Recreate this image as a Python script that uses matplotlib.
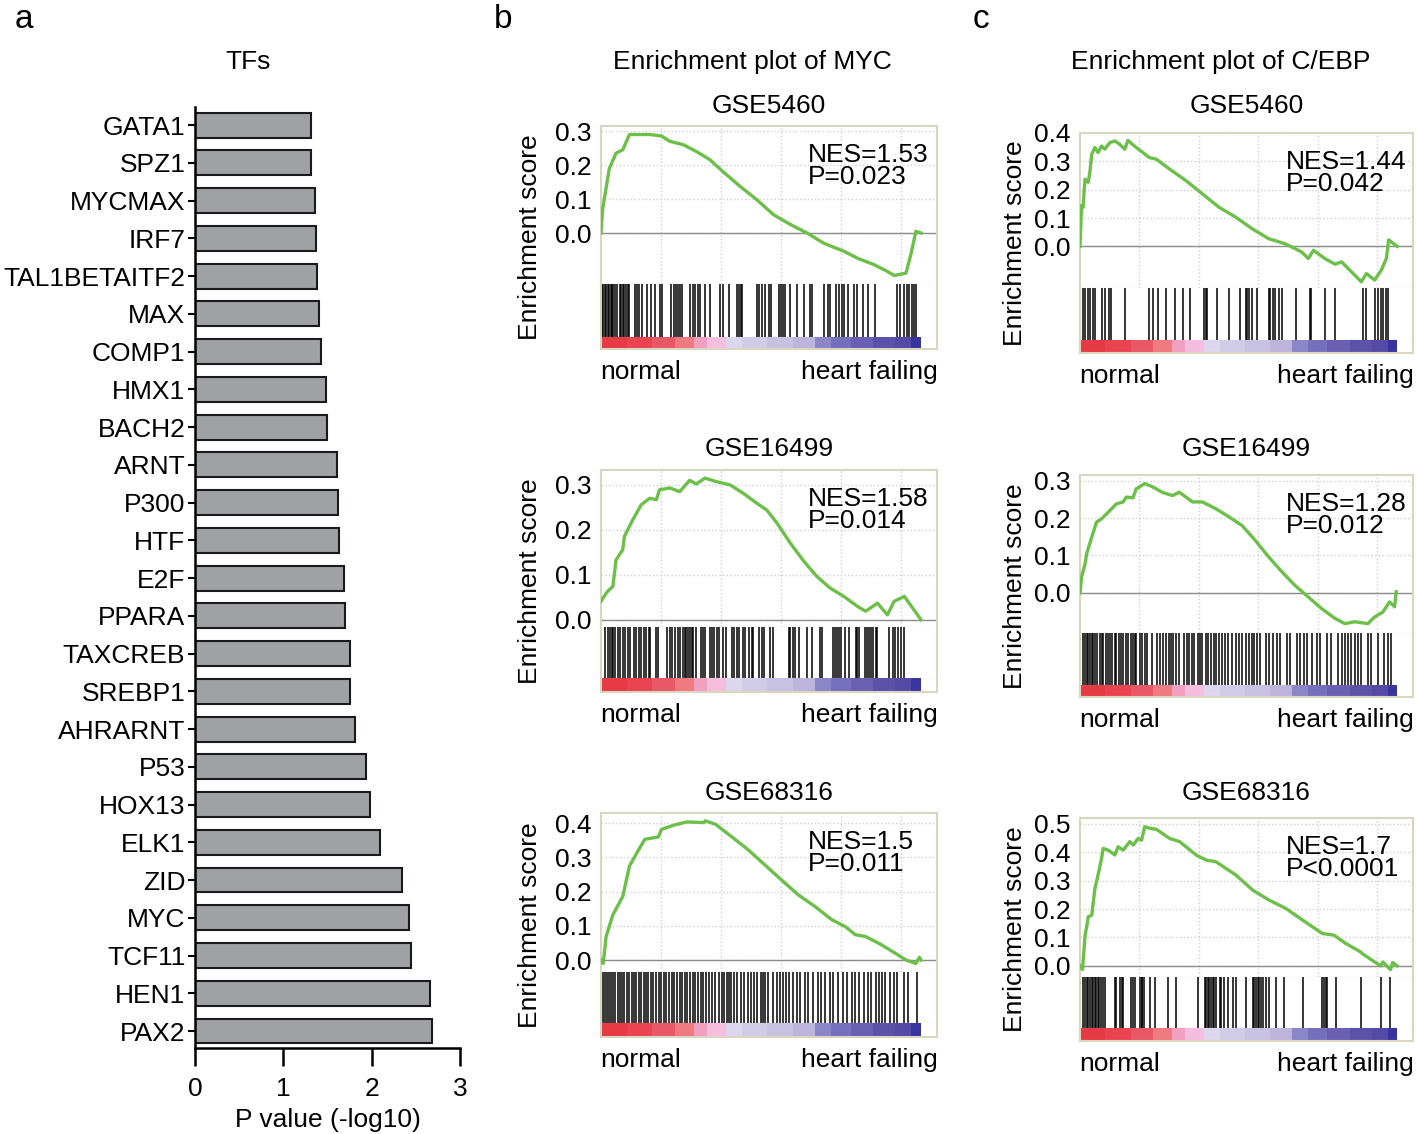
#%%
import numpy as np
import matplotlib.pyplot as plt

plt.rcParams['font.family'] = ['Liberation Sans', 'DejaVu Sans']

# %%
# Panel a: TF enrichment, P value (-log10)
tfs = ['GATA1', 'SPZ1', 'MYCMAX', 'IRF7', 'TAL1BETAITF2', 'MAX', 'COMP1', 'HMX1',
       'BACH2', 'ARNT', 'P300', 'HTF', 'E2F', 'PPARA', 'TAXCREB', 'SREBP1',
       'AHRARNT', 'P53', 'HOX13', 'ELK1', 'ZID', 'MYC', 'TCF11', 'HEN1', 'PAX2']
pvals = [1.31, 1.31, 1.36, 1.37, 1.38, 1.40, 1.43, 1.48, 1.49, 1.61, 1.62, 1.63,
         1.69, 1.70, 1.75, 1.76, 1.81, 1.94, 1.98, 2.09, 2.34, 2.42, 2.44, 2.66, 2.68]
xticks_a = [0, 1, 2, 3]

# %%
# Enrichment curves (x = % of ranked list, y = enrichment score)
es_x_b1 = [0, 0.5, 2.6, 4.7, 6.8, 8.9, 12, 15.2, 18.8, 21.5, 25.7, 29.8, 34, 38.2, 43.5, 48.7,
           53.9, 59.2, 64.4, 69.6, 76, 80.1, 85.3, 89.5, 91.6, 95.3, 96.9, 98.4, 100]
es_y_b1 = [0, 0.07, 0.19, 0.235, 0.245, 0.29, 0.29, 0.29, 0.286, 0.27, 0.26, 0.24, 0.216, 0.18,
           0.137, 0.098, 0.054, 0.025, 0, -0.03, -0.054, -0.074, -0.093, -0.113, -0.125, -0.118,
           -0.06, 0.005, 0]

es_x_b2 = [0, 1.6, 2.6, 3.7, 4.7, 6.8, 7.3, 9.9, 12.6, 15.2, 17.3, 18.3, 21.5, 24.6, 27.7, 29.8,
           32.5, 36.1, 40.3, 44.5, 48.7, 51.8, 55, 59.2, 63.4, 67.5, 71.7, 75.9, 80.1, 82.7, 86.4,
           89.5, 91.6, 94.8, 100]
es_y_b2 = [0.041, 0.059, 0.067, 0.074, 0.133, 0.156, 0.185, 0.222, 0.256, 0.27, 0.267, 0.289,
           0.293, 0.285, 0.31, 0.302, 0.315, 0.307, 0.3, 0.281, 0.259, 0.244, 0.215, 0.17, 0.13,
           0.096, 0.07, 0.052, 0.03, 0.019, 0.037, 0.011, 0.041, 0.052, 0]

es_x_b3 = [0, 0.7, 1.6, 3.7, 6.8, 8.9, 12.1, 13.7, 17.9, 18.9, 22.6, 26.8, 32.1, 32.6, 35.8, 40.5,
           45.8, 51.1, 56.3, 61.6, 66.8, 72.1, 76.3, 79.5, 82.6, 86.8, 91.1, 95.3, 98.4, 99.5, 100]
es_y_b3 = [0, -0.01, 0.069, 0.132, 0.186, 0.275, 0.328, 0.353, 0.36, 0.382, 0.394, 0.404, 0.402,
           0.407, 0.397, 0.363, 0.324, 0.279, 0.235, 0.191, 0.157, 0.118, 0.098, 0.074, 0.069,
           0.049, 0.025, 0, -0.01, 0.008, 0]

es_x_c1 = [0, 0.5, 1.0, 1.3, 1.6, 2.6, 3.1, 3.7, 4.7, 5.7, 6.8, 7.8, 9.4, 11, 12.5, 14.1, 15.1,
           17.7, 21.9, 24, 28.2, 33.4, 38.6, 43.8, 49.1, 54.3, 59.5, 64.7, 67.8, 69.9, 72, 73.6,
           77.2, 80.4, 82.5, 88.7, 90.3, 92.9, 95, 96.6, 97.3, 100]
es_y_c1 = [0, 0.144, 0.138, 0.196, 0.237, 0.226, 0.26, 0.325, 0.349, 0.331, 0.354, 0.343, 0.366,
           0.372, 0.36, 0.343, 0.374, 0.349, 0.313, 0.308, 0.273, 0.232, 0.185, 0.138, 0.103,
           0.062, 0.027, 0.009, -0.008, -0.02, -0.043, -0.014, -0.043, -0.063, -0.055, -0.125,
           -0.096, -0.119, -0.084, -0.043, 0.023, 0]

es_x_c2 = [0, 0.5, 1.6, 2.1, 3.7, 5.2, 6.8, 9.4, 11.5, 13.6, 14.6, 16.7, 17.7, 20.4, 23, 26.1,
           29.2, 31.3, 35.5, 38.6, 42.8, 47, 51.1, 55.3, 59.5, 63.7, 67.8, 72, 76.2, 80.4, 83.5,
           86.6, 90.8, 92.9, 95.5, 97.6, 99.2, 99.7]
es_y_c2 = [0, 0.043, 0.078, 0.105, 0.149, 0.189, 0.198, 0.22, 0.238, 0.243, 0.256, 0.254, 0.278,
           0.292, 0.283, 0.268, 0.26, 0.269, 0.243, 0.243, 0.225, 0.203, 0.18, 0.14, 0.096, 0.056,
           0.02, -0.011, -0.042, -0.068, -0.082, -0.077, -0.082, -0.064, -0.051, -0.024, -0.037,
           0.003]

es_x_c3 = [0, 0.8, 1.6, 2.1, 2.6, 3.7, 4.7, 5.8, 6.8, 7.3, 8.9, 11, 12, 13.6, 15.7, 16.8, 18.3,
           19.4, 20.4, 22, 24.1, 28.3, 31.4, 36.6, 39.8, 42.9, 49.2, 54.5, 59.7, 64.9, 70.2, 76.4,
           80.1, 83.8, 88.5, 89, 94.8, 95.5, 97.9, 98.6, 100]
es_y_c3 = [0, -0.013, 0.108, 0.137, 0.173, 0.178, 0.272, 0.325, 0.378, 0.413, 0.407, 0.39, 0.419,
           0.407, 0.437, 0.425, 0.448, 0.442, 0.489, 0.484, 0.48, 0.448, 0.437, 0.39, 0.372, 0.366,
           0.319, 0.266, 0.231, 0.202, 0.161, 0.114, 0.108, 0.079, 0.049, 0.043, 0, 0.014, -0.013,
           0.012, 0]

# %%
# Hit positions (% of ranked list)
hits_b1 = [0.3, 0.7, 1.2, 1.6, 2.1, 2.6, 3.0, 3.5, 3.9, 4.5, 5.1, 5.8, 6.3, 6.8, 7.3, 7.9, 8.4,
           8.9, 10.5, 11.2, 12.0, 12.9, 14.3, 15.7, 16.8, 18.5, 19.2, 22.0, 22.7, 23.4, 24.0, 24.6,
           25.2, 27.7, 28.6, 29.4, 30.4, 30.9, 32.5, 34.2, 37.2, 38.2, 40.1, 42.6, 43.2, 43.7, 44.1,
           48.7, 49.5, 50.3, 51.3, 52.4, 53.1, 55.5, 56.2, 56.9, 57.6, 59.2, 61.3, 63.4, 65.4, 66.0,
           69.6, 70.9, 71.7, 73.3, 74.3, 75.4, 75.9, 77.2, 79.1, 80.1, 82.0, 83.5, 85.5, 92.5, 93.5,
           94.6, 95.6, 96.3, 97.1, 97.7, 98.4]
hits_b2 = [1.4, 2.1, 2.8, 3.5, 3.9, 4.5, 5.2, 6.0, 6.8, 7.6, 8.4, 9.1, 10.2, 11.0, 11.8, 12.6, 13.3,
           14.1, 15.0, 15.4, 17.3, 17.8, 20.6, 21.5, 22.3, 23.0, 24.1, 24.8, 25.7, 26.2, 26.7, 27.2,
           27.7, 28.3, 28.8, 29.8, 31.4, 31.9, 32.5, 34.0, 34.6, 35.3, 36.1, 37.0, 38.2, 39.1, 40.8,
           41.6, 42.4, 43.2, 44.3, 45.0, 46.4, 47.1, 47.6, 49.5, 50.3, 51.0, 52.9, 53.7, 58.6, 59.2,
           60.0, 60.7, 61.8, 64.4, 66.0, 68.4, 69.1, 72.6, 73.0, 73.6, 74.3, 75.1, 76.4, 77.5, 79.6,
           80.1, 80.6, 82.4, 83.2, 83.8, 84.3, 85.1, 85.9, 86.4, 90.1, 91.1, 91.8, 92.7, 93.7, 94.8]
hits_b3 = [0.5, 1.2, 1.8, 2.5, 3.1, 3.8, 4.4, 5.2, 5.9, 6.5, 7.3, 8.0, 8.8, 9.6, 10.3, 11.0, 11.8,
           12.5, 13.3, 14.0, 14.8, 15.5, 16.4, 17.2, 18.0, 18.9, 19.6, 20.4, 21.3, 22.1, 22.9, 23.7,
           24.6, 25.3, 26.2, 27.0, 27.8, 28.7, 29.5, 30.4, 31.3, 32.0, 32.8, 33.6, 34.6, 35.5, 36.8,
           37.9, 38.4, 39.3, 40.0, 40.5, 41.6, 42.6, 43.9, 44.7, 45.8, 46.8, 47.9, 48.9, 50.0, 50.5,
           51.3, 52.1, 53.7, 55.1, 55.8, 56.8, 57.9, 58.9, 60.0, 61.1, 62.1, 63.7, 64.7, 66.3, 67.9,
           68.9, 70.0, 71.6, 72.6, 74.2, 75.5, 76.8, 78.4, 79.5, 80.5, 82.1, 83.5, 84.5, 85.8, 86.8,
           87.9, 88.9, 90.2, 91.6, 92.6, 94.7, 95.8, 98.9]
hits_c1 = [0.8, 1.6, 2.6, 3.1, 4.0, 4.7, 6.8, 7.8, 9.2, 9.9, 14.1, 21.9, 23.0, 24.5, 27.1, 30.1,
           32.4, 34.7, 39.1, 39.7, 40.2, 43.3, 47.0, 50.6, 52.2, 52.7, 53.2, 54.3, 55.8, 59.5, 60.0,
           60.8, 61.6, 62.6, 63.7, 68.1, 72.5, 72.9, 77.2, 80.4, 89.2, 90.3, 92.9, 93.9, 95.0, 95.5,
           96.6, 97.1]
hits_c2 = [1.0, 1.6, 2.1, 2.6, 3.1, 3.8, 4.2, 4.7, 5.4, 6.3, 6.9, 7.3, 8.1, 8.9, 9.4, 10.2, 11.0,
           11.5, 12.3, 13.0, 13.6, 14.4, 15.1, 16.2, 16.7, 17.2, 17.7, 18.8, 19.6, 20.4, 21.1, 22.8,
           24.2, 25.1, 26.3, 27.1, 28.0, 28.7, 29.4, 30.3, 31.3, 32.9, 33.6, 34.4, 35.3, 36.0, 37.1,
           37.8, 38.6, 39.7, 40.5, 41.2, 42.3, 43.0, 43.8, 44.9, 45.7, 46.8, 48.0, 49.1, 50.1, 51.1,
           52.2, 53.2, 54.1, 54.9, 55.8, 56.9, 58.5, 59.5, 60.8, 62.1, 63.2, 65.2, 66.3, 68.4, 69.4,
           70.5, 71.5, 73.1, 74.6, 75.7, 77.8, 79.3, 81.4, 82.5, 83.5, 84.6, 85.6, 86.6, 87.7, 88.7,
           90.8, 91.9, 93.9, 96.0, 97.1, 98.1]
hits_c3 = [1.0, 1.6, 2.1, 2.6, 3.1, 3.7, 4.2, 4.7, 5.2, 5.8, 6.1, 6.5, 7.3, 7.9, 11.0, 11.5, 12.6,
           13.1, 13.6, 16.2, 16.8, 17.3, 18.8, 19.4, 19.7, 20.1, 22.0, 23.6, 27.7, 30.4, 37.2, 39.3,
           39.8, 40.3, 40.8, 41.4, 41.9, 42.4, 42.9, 44.0, 44.5, 45.5, 46.6, 48.2, 49.2, 52.4, 54.5,
           55.0, 55.5, 56.0, 56.5, 57.1, 57.6, 58.6, 59.7, 61.8, 64.4, 70.2, 76.4, 77.0, 77.5, 78.0,
           80.6, 88.5, 94.8, 97.9]

# ranked list colour blocks
rank_edges = [0, 8, 16, 23, 29, 33, 39, 44, 52, 60, 67, 72, 78, 85, 92, 97, 100]
rank_colors = ['#e83a45', '#ea4452', '#e95866', '#ef7a80', '#f2a0c0', '#f5bedd', '#dcd6ee',
               '#d0cce8', '#c8c2e2', '#bdb4dc', '#8a86c8', '#7570bc', '#6a5fb2', '#5d52aa',
               '#554ba6', '#3a34a0']

nes_b = ['NES=1.53\nP=0.023', 'NES=1.58\nP=0.014', 'NES=1.5\nP=0.011']
nes_c = ['NES=1.44\nP=0.042', 'NES=1.28\nP=0.012', 'NES=1.7\nP<0.0001']
gse_names = ['GSE5460', 'GSE16499', 'GSE68316']

# %%
W, H = 1418, 1134
fig = plt.figure(figsize=(W / 100, H / 100), dpi=100)

FS = 19

def box(l, t, r, b):
    return [l / W, 1 - b / H, (r - l) / W, (b - t) / H]

def ftext(x, y, s, **kw):
    kw.setdefault('fontsize', FS)
    kw.setdefault('va', 'center')
    return fig.text(x / W, 1 - y / H, s, **kw)

green = '#6cc04a'
frame_col = '#d9d5c0'
sep_col = '#b5b5b5'

# panel a
ax = fig.add_axes(box(195, 107, 460, 1048))
ypos = np.arange(len(tfs))
ax.barh(ypos, pvals, height=0.66, color='#a0a1a5', edgecolor='#1a1a1a', linewidth=1.5)
ax.set_xlim(0, 3)
ax.set_ylim(24.45, -0.48)
ax.set_yticks(ypos)
ax.set_yticklabels(tfs)
ax.set_xticks(xticks_a)
for s in ['top', 'right']:
    ax.spines[s].set_visible(False)
for s in ['left', 'bottom']:
    ax.spines[s].set_linewidth(1.8)
ax.tick_params(axis='x', length=13, width=1.8, labelsize=FS, pad=8)
ax.tick_params(axis='y', length=5, width=1.5, labelsize=FS, pad=2)
ax.set_xlabel('P value (-log10)', fontsize=FS, labelpad=5)
ftext(248, 62, 'TFs', ha='center')

ftext(24, 19, 'a', fontsize=24, ha='center')
ftext(503, 19, 'b', fontsize=24, ha='center')
ftext(981, 19, 'c', fontsize=24, ha='center')
ftext(752, 62, 'Enrichment plot of MYC', ha='center')
ftext(1221, 62, 'Enrichment plot of C/EBP', ha='center')

# %%
def gsea(frame, ylim, yticks, ex, ey, hits, stat, gse, title_y, ylab_x):
    l, t, eb, hb, cb, r = frame
    xmax = 105
    ax = fig.add_axes(box(l, t, r, eb))
    ax.plot(ex, ey, color=green, lw=2.4, zorder=3)
    ax.axhline(0, color='#8c8c8c', lw=1, zorder=2)
    ax.set_xlim(0, xmax)
    ax.set_ylim(*ylim)
    ax.set_yticks(yticks)
    ax.set_yticklabels(['%.1f' % v for v in yticks])
    ax.set_xticks([18.75, 37.5, 56.25, 75, 93.75])
    ax.tick_params(axis='x', length=0, labelbottom=False)
    ax.tick_params(axis='y', length=0, labelsize=FS, pad=7)
    ax.grid(True, ls=':', color='#cfcfcf', lw=1)
    for s in ['left', 'top', 'right']:
        ax.spines[s].set_color(frame_col)
        ax.spines[s].set_linewidth(1.5)
    ax.spines['bottom'].set_color(sep_col)

    hx = fig.add_axes(box(l, eb, r, hb))
    hx.vlines(hits, 0, 1, color='black', lw=1.1)
    hx.set_xlim(0, xmax)
    hx.set_ylim(0, 1)
    hx.set_xticks([])
    hx.set_yticks([])
    for s in ['left', 'right']:
        hx.spines[s].set_color(frame_col)
        hx.spines[s].set_linewidth(1.5)
    hx.spines['top'].set_visible(False)
    hx.spines['bottom'].set_color(sep_col)

    cx = fig.add_axes(box(l, hb, r, cb))
    for i, c in enumerate(rank_colors):
        cx.axvspan(rank_edges[i], rank_edges[i + 1], color=c, lw=0)
    cx.set_xlim(0, xmax)
    cx.set_xticks([])
    cx.set_yticks([])
    for s in ['left', 'right', 'bottom']:
        cx.spines[s].set_color(frame_col)
        cx.spines[s].set_linewidth(1.5)
    cx.spines['top'].set_visible(False)

    ftext((l + r) / 2, title_y, gse, ha='center')
    ftext(l + 0.617 * (r - l), t + 40, stat, linespacing=0.87)
    ftext(l - 1, cb + 23, 'normal', ha='left')
    ftext(r + 1, cb + 23, 'heart failing', ha='right')
    ftext(ylab_x, (t + cb) / 2, 'Enrichment score', ha='center', rotation=90)

title_rows = [106, 449, 793]
gsea((601, 126, 284, 337, 349, 937), (-0.15, 0.315), [0, 0.1, 0.2, 0.3],
     es_x_b1, es_y_b1, hits_b1, nes_b[0], gse_names[0], title_rows[0], 530)
gsea((601, 470, 627, 678, 692, 937), (-0.016, 0.333), [0, 0.1, 0.2, 0.3],
     es_x_b2, es_y_b2, hits_b2, nes_b[1], gse_names[1], title_rows[1], 530)
gsea((601, 813, 972, 1023, 1037, 937), (-0.035, 0.43), [0, 0.1, 0.2, 0.3, 0.4],
     es_x_b3, es_y_b3, hits_b3, nes_b[2], gse_names[2], title_rows[2], 530)
gsea((1080, 133, 288, 340, 353, 1413), (-0.147, 0.40), [0, 0.1, 0.2, 0.3, 0.4],
     es_x_c1, es_y_c1, hits_c1, nes_c[0], gse_names[0], title_rows[0], 1015)
gsea((1080, 475, 633, 685, 697, 1413), (-0.107, 0.315), [0, 0.1, 0.2, 0.3],
     es_x_c2, es_y_c2, hits_c2, nes_c[1], gse_names[1], title_rows[1], 1015)
gsea((1080, 818, 977, 1028, 1041, 1413), (-0.039, 0.52), [0, 0.1, 0.2, 0.3, 0.4, 0.5],
     es_x_c3, es_y_c3, hits_c3, nes_c[2], gse_names[2], title_rows[2], 1015)

fig.savefig('out.png', dpi=100)
